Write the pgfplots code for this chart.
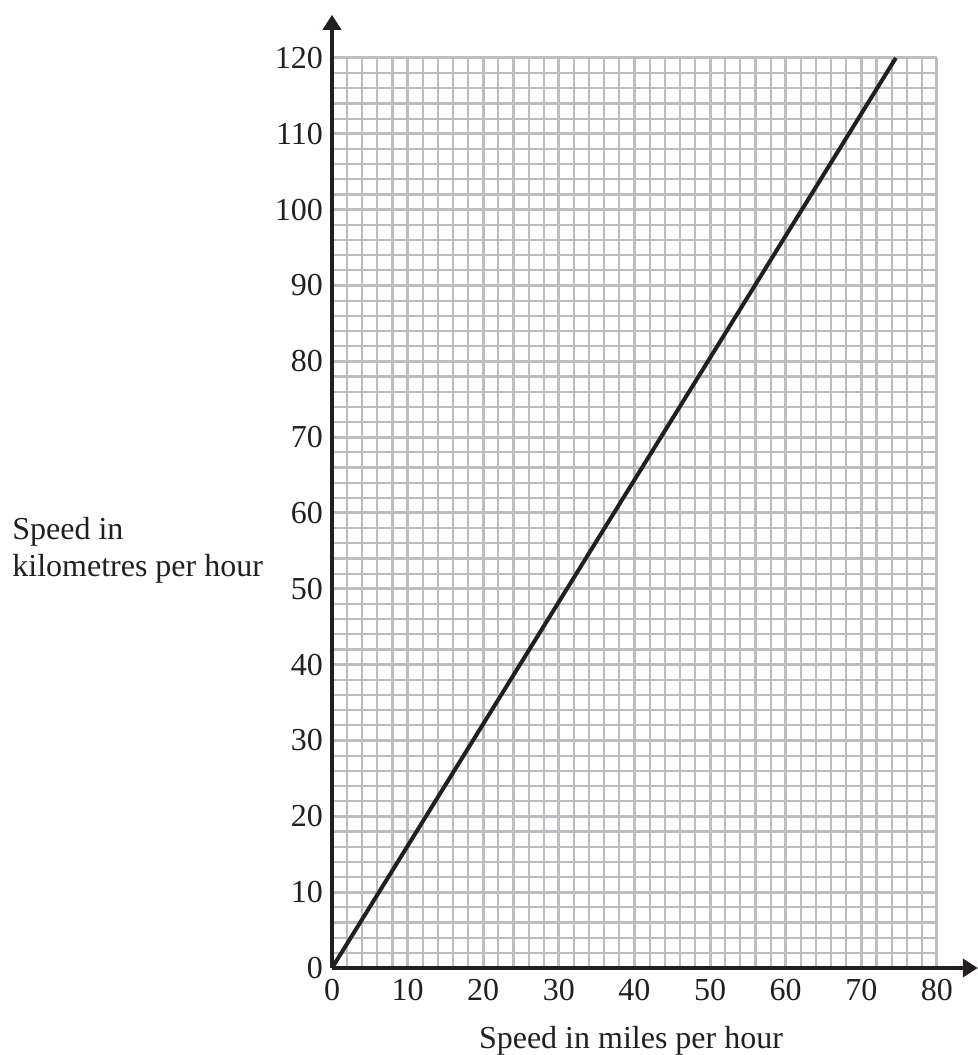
\documentclass[border=0pt]{standalone}
\usepackage{fontspec}
\setmainfont{Liberation Serif}
\usepackage{pgfplots}
\pgfplotsset{compat=1.18}
\usetikzlibrary{arrows.meta}
\definecolor{gridgray}{RGB}{188,189,193}
\definecolor{ink}{RGB}{35,31,32}

\begin{document}
\begin{tikzpicture}[x=1pt,y=1pt]
\begin{axis}[
    at={(0,0)}, anchor=origin,
    scale only axis,
    width=302.5pt, height=455pt,
    xmin=0, xmax=80, ymin=0, ymax=120,
    xtick={0,10,...,80}, ytick={0,10,...,120},
    minor x tick num=4, minor y tick num=4,
    grid=both,
    major grid style={gridgray, line width=1.5pt},
    minor grid style={gridgray, line width=1.1pt},
    axis lines=left,
    axis line style={draw=none},
    major tick length=0pt, minor tick length=0pt,
    tick style={draw=none},
    /pgf/number format/assume math mode=true,
    ticklabel style={font=\fontsize{16}{18}\selectfont, text=ink},
    yticklabel style={xshift=-1pt},
    xticklabel style={yshift=-2pt},
    clip=false,
]
\addplot[ink, line width=2pt] coordinates {(0,0) (74.56,120)};
\draw[ink, line width=2.2pt, -{Triangle[width=9pt,length=7.5pt]}]
    (axis cs:0,0) -- (axis cs:0,125.7);
\draw[ink, line width=2.2pt, -{Triangle[width=9pt,length=7.5pt]}]
    (axis cs:0,0) -- (axis cs:85.4,0);
\end{axis}
\begin{scope}[font=\fontsize{16}{18}\selectfont, text=ink]
\node[anchor=base west, inner sep=0pt] at (-160,214) {Speed in};
\node[anchor=base west, inner sep=0pt] at (-160,195.5) {kilometres per hour};
\node[anchor=base, inner sep=0pt] at (149.5,-40) {Speed in miles per hour};
\end{scope}
\pgfresetboundingbox
\path[use as bounding box] (-166,-43.5) rectangle (323,484);
\end{tikzpicture}
\end{document}
